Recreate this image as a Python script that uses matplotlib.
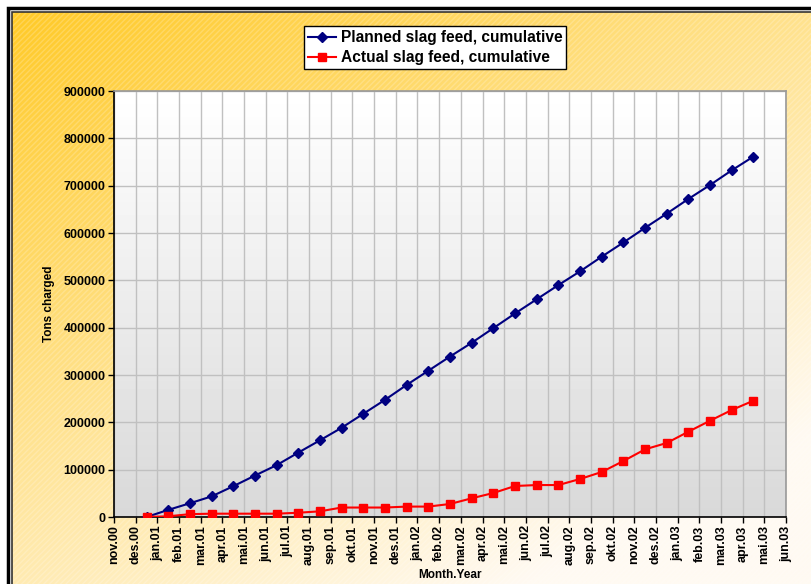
import numpy as np
import matplotlib.pyplot as plt
from matplotlib.patches import Rectangle

plt.rcParams['font.family'] = ['Liberation Sans', 'DejaVu Sans']
plt.rcParams['font.weight'] = 'bold'

# Måneder på x-aksen (nov.00 - jun.03)
maaneder = ['jan', 'feb', 'mar', 'apr', 'mai', 'jun', 'jul', 'aug', 'sep', 'okt', 'nov', 'des']
tick_labels = ['nov.00', 'des.00'] + [f'{m}.{y:02d}' for y in (1, 2) for m in maaneder] \
    + [f'{m}.03' for m in maaneder[:6]]

# Data: ett punkt per måned, des.00 - apr.03 (midt i måneden)
maaned_idx = np.arange(1, 30)
planned = [0, 15000, 29000, 43500, 65000, 87500, 109500, 136000, 162000, 188500,
           218000, 247500, 279000, 309000, 339000, 368000, 399000, 430000, 460000,
           490000, 519000, 550000, 580000, 611000, 641000, 672000, 701500, 732500,
           761500]
actual = [0, 1500, 6000, 7000, 7000, 7000, 7000, 9000, 12000, 20000, 20000, 20000,
          22000, 22000, 27500, 39500, 50700, 65500, 67500, 67500, 80300, 95100,
          118300, 143000, 156400, 180300, 203500, 226100, 245800]

fig = plt.figure(figsize=(8.12, 5.84), dpi=100)

# Bakgrunn: diagonal gullgradient
bg = fig.add_axes([0, 0, 1, 1], zorder=-10)
yy, xx = np.mgrid[0:1:200j, 0:1:200j]
t = np.clip((xx * 0.55 + yy * 0.75) / 1.1, 0, 1)
c0 = np.array([255, 202, 40]) / 255
c1 = np.array([255, 250, 242]) / 255
img = c0 + (c1 - c0) * t[..., None]
bg.imshow(img, extent=[12 / 812, 1, 0, 1 - 12 / 584], aspect='auto', origin='upper')
bg.add_patch(Rectangle((12 / 812, 0), 1, 1 - 12 / 584, facecolor='none',
                       edgecolor='white', hatch='//////', linewidth=0, alpha=0.2))
bg.set_xlim(0, 1)
bg.set_ylim(0, 1)
bg.axis('off')

# Ramme
fig.patches.append(Rectangle((7.5 / 812, -0.1), 2, 1 - 7.5 / 584 + 0.1, transform=fig.transFigure,
                             facecolor='none', edgecolor='black', linewidth=2.5))
fig.patches.append(Rectangle((11.8 / 812, -0.1), 2, 1 - 11.8 / 584 + 0.1, transform=fig.transFigure,
                             facecolor='none', edgecolor='#333333', linewidth=1.2))

ax = fig.add_axes([114 / 812, 1 - 517 / 584, 672 / 812, 426 / 584])
ax.patch.set_alpha(0)
# Plotområde: grå gradient
grad = np.linspace(1.0, 0.85, 100)[:, None] * np.ones((100, 2))
ax.imshow(grad, extent=[0, 31, 0, 900000], aspect='auto', cmap='gray', vmin=0, vmax=1,
          origin='upper', zorder=0)

ax.plot(maaned_idx + 0.5, planned, color='#000080', marker='D', markersize=5.5,
        linewidth=1.5, label='Planned slag feed, cumulative', zorder=3)
ax.plot(maaned_idx + 0.5, actual, color='#FF0000', marker='s', markersize=6,
        linewidth=1.5, label='Actual slag feed, cumulative', zorder=3)

ax.set_xlim(0, 31)
ax.set_ylim(0, 900000)
ax.set_xticks(np.arange(len(tick_labels)))
ax.set_xticklabels(tick_labels, rotation=90, fontsize=9, fontweight='bold')
ax.set_yticks(np.arange(0, 900001, 100000))
ax.set_yticklabels([str(v) for v in range(0, 900001, 100000)], fontsize=9, fontweight='bold')
ax.tick_params(direction='out', length=4, width=1, color='black', pad=2)
ax.grid(True, color='#C0C0C0', linewidth=1, zorder=1)
ax.set_axisbelow(True)
for s in ('top', 'right'):
    ax.spines[s].set_color('#999999')
    ax.spines[s].set_linewidth(1.2)
for s in ('left', 'bottom'):
    ax.spines[s].set_color('black')
    ax.spines[s].set_linewidth(1.2)

ax.set_ylabel('Tons charged', fontsize=8.5, fontweight='bold', labelpad=6)
ax.set_xlabel('Month.Year', fontsize=8.5, fontweight='bold', labelpad=3)

fig.legend(loc='upper center', bbox_to_anchor=(0.536, 0.968), fontsize=11.2,
           frameon=True, fancybox=False, edgecolor='black', facecolor='white',
           framealpha=1, handlelength=1.8, borderpad=0.25, labelspacing=0.3,
           handletextpad=0.3)

plt.savefig('out.png', dpi=100)
